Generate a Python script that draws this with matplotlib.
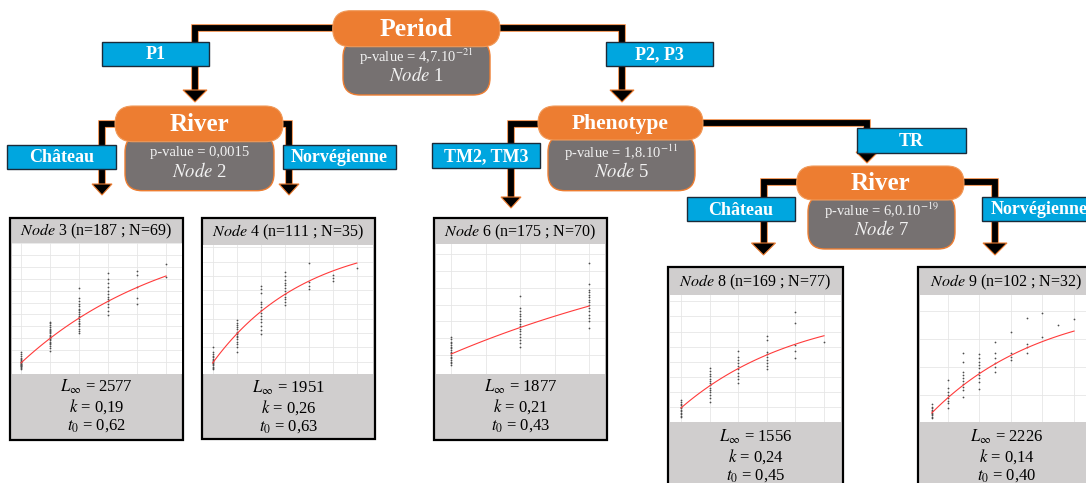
import matplotlib
matplotlib.use('Agg')
import matplotlib.pyplot as plt
import matplotlib.patheffects as pe
from matplotlib.patches import FancyBboxPatch, Rectangle, Polygon
import numpy as np

plt.rcParams['font.family'] = ['Liberation Serif', 'DejaVu Serif']
plt.rcParams['mathtext.fontset'] = 'stix'

# ---- data ----
# split nodes of the tree
split_ids = [1, 2, 5, 7]
split_vars = ['Period', 'River', 'Phenotype', 'River']
split_pvals = ['4,7.10$^{-21}$', '0,0015', '1,8.10$^{-11}$', '6,0.10$^{-19}$']
branch_labels = ['P1', 'P2, P3', 'Château', 'Norvégienne', 'TM2, TM3', 'TR', 'Château', 'Norvégienne']

# terminal nodes (von Bertalanffy fits)
leaf_ids = [3, 4, 6, 8, 9]
leaf_n = [187, 111, 175, 169, 102]
leaf_N = [69, 35, 70, 77, 32]
linf = [2577, 1951, 1877, 1556, 2226]
k_vals = [0.19, 0.26, 0.21, 0.24, 0.14]
t0_vals = [0.62, 0.63, 0.43, 0.45, 0.40]

len_node3 = {
    1: [75, 95, 110, 120, 130, 140, 150, 160, 170, 180, 190, 200, 210, 225, 240, 260, 290, 330, 370],
    2: [390, 430, 470, 500, 520, 540, 560, 580, 600, 620, 640, 660, 680, 700, 720, 740, 760, 790, 820, 850, 880],
    3: [680, 720, 760, 800, 830, 860, 890, 920, 950, 980, 1010, 1040, 1070, 1100, 1140, 1180, 1220, 1270, 1440],
    4: [990, 1060, 1120, 1170, 1220, 1260, 1300, 1350, 1400, 1460, 1530, 1600, 1700],
    5: [1180, 1270, 1470, 1670, 1740],
    6: [1640, 1860],
}
len_node4 = {
    1: [90, 110, 130, 150, 165, 180, 195, 210, 225, 240, 260, 280, 310, 340, 400],
    2: [340, 400, 440, 480, 510, 540, 560, 580, 600, 620, 650, 680, 710, 740, 780],
    3: [585, 640, 700, 760, 800, 840, 880, 920, 960, 1000, 1040, 1160, 1210, 1255],
    4: [990, 1030, 1070, 1110, 1150, 1190, 1230, 1270, 1300, 1340, 1400, 1455],
    5: [1210, 1255, 1315, 1575],
    6: [1330, 1365, 1410],
    7: [1505],
}
len_node6 = {
    1: [80, 100, 120, 140, 160, 180, 200, 220, 240, 260, 280, 300, 320, 340, 360, 390, 420],
    2: [300, 340, 380, 420, 450, 480, 510, 540, 570, 600, 630, 660, 690, 720, 755, 900],
    3: [520, 600, 640, 680, 720, 760, 800, 830, 860, 890, 920, 950, 975, 1045, 1300],
}
len_node8 = {
    1: [70, 90, 110, 130, 150, 170, 190, 210, 230, 250, 270, 295],
    2: [275, 320, 360, 400, 430, 460, 490, 520, 550, 580, 610, 640, 680, 715],
    3: [525, 580, 620, 660, 700, 740, 780, 820, 870, 945],
    4: [700, 740, 780, 820, 860, 900, 935, 1090, 1140],
    5: [855, 950, 1020, 1320, 1455],
    6: [1065],
}
len_node9 = {
    1: [85, 110, 135, 160, 185, 210, 235, 260, 290, 340],
    2: [265, 355, 400, 450, 500, 550, 620, 770],
    3: [460, 590, 650, 700, 750, 800, 860, 920, 1095, 1260],
    4: [600, 740, 800, 860, 920, 980, 1040, 1100, 1170, 1235],
    5: [920, 1000, 1080, 1160, 1260, 1445],
    6: [1130, 1185, 1260, 1635],
    7: [1260, 1355, 1415, 1875],
    8: [1545, 1975],
    9: [1755],
    10: [1855],
}
leaf_data = [len_node3, len_node4, len_node6, len_node8, len_node9]

ORANGE = '#ED7D31'
GREY = '#767171'
BLUE = '#00A6DF'
LIGHT = '#D0CECE'

W, H = 1086, 483
fig = plt.figure(figsize=(W / 100, H / 100), dpi=100)
ax = fig.add_axes([0, 0, 1, 1])
ax.set_xlim(0, W)
ax.set_ylim(H, 0)
ax.axis('off')


def line(pts):
    xs, ys = zip(*pts)
    ax.plot(xs, ys, color='black', lw=4.2, solid_joinstyle='miter', solid_capstyle='butt',
            path_effects=[pe.Stroke(linewidth=5.4, foreground=ORANGE), pe.Normal()], zorder=1)


def arrow(x, base, tip, w=22):
    ax.add_patch(Polygon([(x - w / 2, base), (x + w / 2, base), (x, tip)], closed=True,
                         fc='black', ec=ORANGE, lw=0.8, zorder=2))


def blue_box(x0, y0, x1, y1, label):
    ax.add_patch(Rectangle((x0, y0), x1 - x0, y1 - y0, fc=BLUE, ec='#1b2a38', lw=1, zorder=3))
    ax.text((x0 + x1) / 2, (y0 + y1) / 2 + 1, label, color='white', fontsize=13, fontweight='bold',
            ha='center', va='center', zorder=4)


def split_node(pill, grey, title, pval, node, tsize):
    gx0, gy0, gx1, gy1 = grey
    ax.add_patch(FancyBboxPatch((gx0, gy0), gx1 - gx0, gy1 - gy0, boxstyle='round,pad=0,rounding_size=17',
                                fc=GREY, ec=ORANGE, lw=1, zorder=2))
    x0, y0, x1, y1 = pill
    ax.add_patch(FancyBboxPatch((x0, y0), x1 - x0, y1 - y0,
                                boxstyle='round,pad=0,rounding_size=%f' % ((y1 - y0) / 2),
                                fc=ORANGE, ec='#f09a5a', lw=0.8, zorder=3))
    cx = (gx0 + gx1) / 2
    ax.text((x0 + x1) / 2, (y0 + y1) / 2 + 1, title, color='white', fontsize=tsize, fontweight='bold',
            ha='center', va='center', zorder=4)
    ax.text(cx, gy1 - 38, 'p-value = ' + pval, color='#f2f2f2', fontsize=10.5,
            ha='center', va='center', zorder=4)
    ax.text(cx, gy1 - 19.5, r'$\mathit{Node}$ %d' % node, color='#f2f2f2', fontsize=13.5,
            ha='center', va='center', zorder=4)


# ---- tree connectors ----
line([(340, 28), (195, 28), (195, 91)])
arrow(195, 90, 102, 24)
line([(495, 28), (622, 28), (622, 91)])
arrow(622, 90, 102, 24)
line([(125, 123.5), (102, 123.5), (102, 185)])
arrow(102, 184, 195, 20)
line([(275, 123.5), (289, 123.5), (289, 185)])
arrow(289, 184, 195, 20)
line([(545, 123.5), (511, 123.5), (511, 198)])
arrow(511, 197, 208, 20)
line([(695, 123), (867, 123), (867, 153)])
arrow(867, 152, 163, 22)
line([(805, 181.5), (763.5, 181.5), (763.5, 244)])
arrow(763.5, 243, 255, 24)
line([(955, 181.5), (995, 181.5), (995, 244)])
arrow(995, 243, 255, 24)

# ---- split nodes ----
pills = [(332.7, 10.7, 500, 46.7), (115, 106, 283, 141.7), (538, 106, 703, 140), (796.7, 166, 964, 200)]
greys = [(343, 40, 490, 95), (125, 135, 274, 190.7), (548, 135, 695, 190.7), (808, 195, 955, 249)]
title_sizes = [18.5, 18, 15.5, 18]
for i in range(len(split_ids)):
    split_node(pills[i], greys[i], split_vars[i], split_pvals[i], split_ids[i], title_sizes[i])

# ---- branch labels ----
label_boxes = [(101.7, 41.7, 209.3, 65.7), (605.5, 42.3, 713, 65.7), (7.3, 145, 115.7, 169),
               (282.7, 145, 396, 169), (431.7, 143.3, 540, 167.7), (857, 128, 966, 152.7),
               (686.7, 197.3, 795, 221), (982, 197, 1097, 221)]
for b, lab in zip(label_boxes, branch_labels):
    blue_box(*b, lab)

# ---- terminal node panels ----
panel_box = [(10, 218, 183, 440), (201.7, 218, 375, 439), (434, 218, 606.7, 440),
             (668, 267, 843, 495), (918, 267, 1095, 495)]
plot_area = [(12, 243, 182, 374), (203, 245, 373, 374), (436, 244, 605, 374),
             (670, 295, 841, 422), (920, 295, 1086, 422)]
x_limits = [(0.69, 6.55), (0.6, 7.67), (0.78, 3.23), (0.615, 6.594), (0.255, 10.755)]
y_limits = [(-7, 2207), (25, 1831), (-26, 1521), (7, 1683), (18, 2291)]
x_grid = [[1, 2, 3, 4, 5, 6], [1, 2, 3, 4, 5, 6, 7], [1, 1.5, 2, 2.5, 3], [1, 2, 3, 4, 5, 6], [2, 4, 6, 8, 10]]
y_step = [200, 200, 200, 200, 500]
stat_y = [387, 388, 387, 437, 437]

for i in range(len(leaf_ids)):
    x0, y0, x1, y1 = panel_box[i]
    px0, py0, px1, py1 = plot_area[i]
    ax.add_patch(Rectangle((x0, y0), x1 - x0, y1 - y0, fc=LIGHT, ec='black', lw=1.6, zorder=2))
    cx = (x0 + min(x1, W + 9)) / 2
    ax.text(cx, (y0 + py0) / 2 + 1, r'$\mathit{Node}$ %d (n=%d ; N=%d)' % (leaf_ids[i], leaf_n[i], leaf_N[i]),
            fontsize=11.5, ha='center', va='center', zorder=4)
    ax.text(cx, stat_y[i], r'$L_{\infty}$ = %d' % linf[i], fontsize=12, ha='center', va='center', zorder=4)
    ax.text(cx, stat_y[i] + 19.5, r'$k$ = ' + ('%.2f' % k_vals[i]).replace('.', ','),
            fontsize=12, ha='center', va='center', zorder=4)
    ax.text(cx, stat_y[i] + 38.5, r'$t_0$ = ' + ('%.2f' % t0_vals[i]).replace('.', ','),
            fontsize=12, ha='center', va='center', zorder=4)

    sub = fig.add_axes([px0 / W, 1 - py1 / H, (px1 - px0) / W, (py1 - py0) / H])
    sub.set_facecolor('white')
    ages, lens = [], []
    for a, vals in leaf_data[i].items():
        ages += [a] * len(vals)
        lens += vals
    sub.scatter(ages, lens, s=1.6, color='#4d4d4d', linewidths=0, zorder=3)
    t = np.linspace(min(leaf_data[i]), max(leaf_data[i]), 100)
    sub.plot(t, linf[i] * (1 - np.exp(-k_vals[i] * (t - t0_vals[i]))), color='#ff3b3b', lw=0.8, zorder=4)
    sub.set_xlim(*x_limits[i])
    sub.set_ylim(*y_limits[i])
    sub.set_xticks(x_grid[i])
    sub.set_yticks(np.arange(y_step[i], y_limits[i][1], y_step[i]))
    sub.grid(True, color='#e6e6e6', lw=0.6)
    sub.set_axisbelow(True)
    sub.tick_params(length=0, labelbottom=False, labelleft=False)
    for s in sub.spines.values():
        s.set_visible(False)

fig.savefig('out.png', dpi=100)
